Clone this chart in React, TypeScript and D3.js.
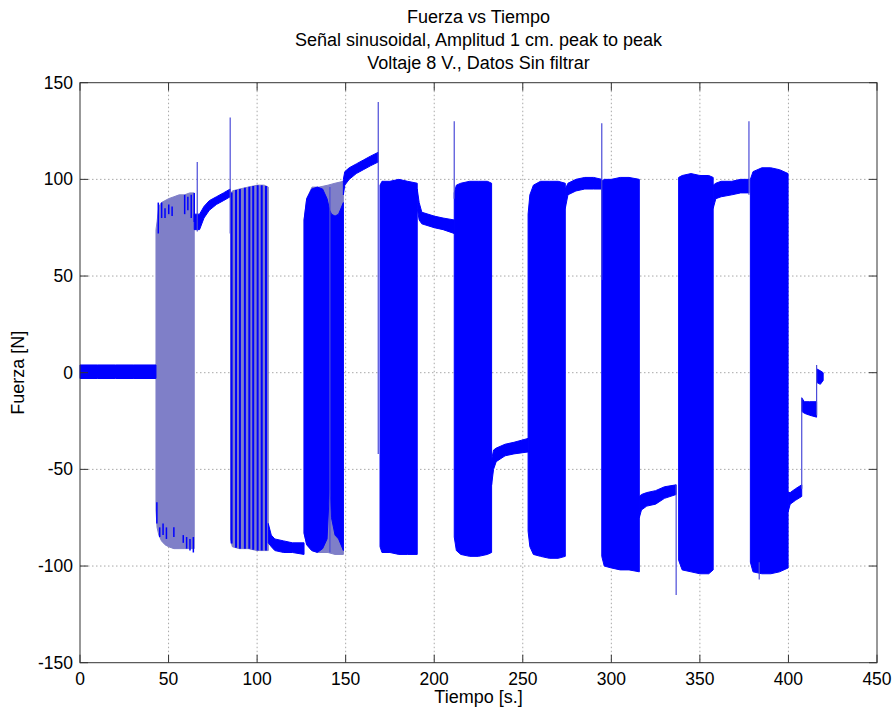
import React from 'react';
import * as d3 from 'd3';

// ---------- labels & ticks ----------
const TITLE_LINES = [
  'Fuerza vs Tiempo',
  'Señal sinusoidal, Amplitud 1 cm. peak to peak',
  'Voltaje 8 V., Datos Sin filtrar',
];
const X_LABEL = 'Tiempo [s.]';
const Y_LABEL = 'Fuerza [N]';
const X_TICKS = [0, 50, 100, 150, 200, 250, 300, 350, 400, 450];
const Y_TICKS = [-150, -100, -50, 0, 50, 100, 150];

// ---------- oscillation envelopes: [time, upper, lower] ----------
const band1 = [[42.9, 74, -71], [43.5, 78, -80], [44.5, 86, -84], [46, 88, -87], [48, 89, -89], [50, 90, -90], [53, 91, -91], [56, 92, -91], [59, 92, -91], [62, 93, -91], [64.5, 93, -91]];
const band2 = [[85, 92, -86], [86, 94, -90], [90, 95, -91], [95, 96, -91], [100, 97, -92], [104, 97, -92], [106.3, 96, -92]];
const band3 = [[126.5, 79, -83], [128, 90, -89], [131, 96, -92], [135, 96, -93], [140, 97, -93], [144, 98, -94], [148.7, 99, -94]];
const band3Dense = [[126.5, 79, -83], [128, 90, -89], [130.8, 95, -92], [134, 96, -93], [137, 95, -91], [139.5, 90, -86], [141, 84, -57], [142, 82, -75], [144, 81, -84], [146, 82, -86], [148.7, 88, -92]];
const band4 = [[169.4, 97, -90], [170.5, 99, -93], [175, 99, -93], [180, 100, -94], [185, 99, -94], [190.4, 98, -94]];
const band5 = [[211.3, 93, -85], [212.5, 97, -92], [215, 98, -94], [220, 99, -95], [225, 99, -95], [230, 99, -94], [232.4, 98, -93]];
const band6 = [[253, 82, -82], [254, 92, -90], [256, 97, -94], [260, 99, -95], [265, 99, -96], [270, 99, -96], [274, 98, -95]];
const band7 = [[294.6, 99, -95], [296, 100, -100], [300, 100, -101], [305, 101, -102], [310, 101, -102], [315.8, 100, -103]];
const band8 = [[338, 101, -97], [340, 102, -102], [345, 103, -103], [350, 102, -104], [355, 102, -104], [357.5, 101, -102]];
const band9 = [[378.5, 100, -98], [380, 104, -103], [385, 106, -104], [390, 106, -104], [395, 105, -103], [399.8, 103, -101]];

// individual cycles visible inside the lighter bands: [time, from, to]
const band1Marks = [[44.2, 88, 72], [46.1, 88, 80], [48, 85, 80], [50.1, 87, 82], [52, 86, 81], [59.1, 92, 82], [60.9, 91, 84], [62.8, 92, 80], [64.5, 93, 78],
  [43.4, -67, -78], [45, -80, -85], [46.9, -78, -84], [48.8, -80, -86], [53, -80, -85], [58.3, -84, -88], [60.2, -85, -91], [62.1, -86, -92], [64, -85, -93]];
const band2Stripes = [85.6, 88.1, 90.3, 93.1, 95.6, 97.8, 100.3, 102.6, 105];

// ---------- resting (non-oscillating) segments: [time, upper, lower] ----------
const rest0 = [[0, 4, -3], [10, 4, -3], [20, 4, -3], [30, 4, -3], [42.9, 4, -3]];
const restA = [[64.5, 82, 74], [67.5, 82, 74], [70, 86, 80], [73, 89, 84], [77, 91, 87], [81, 93, 89], [84.8, 95, 91]];
const restB = [[106.3, -78, -88], [108, -84, -90], [110, -86, -92], [115, -87, -93], [120, -88, -93], [126.5, -88, -94]];
const restC = [[148.7, 100, 92], [149.5, 104, 97], [152, 106, 100], [156, 108, 103], [160, 110, 105], [164, 112, 107], [168.4, 114, 109]];
const restD = [[190.4, 95, 85], [191.5, 88, 79], [193, 83, 77], [200, 81, 75], [205, 80, 74], [211.3, 79, 72]];
const restE = [[232.4, -45, -58], [233.5, -40, -50], [235, -39, -46], [240, -37, -43], [245, -36, -42], [253, -34, -41]];
const restF = [[274, 95, 85], [275.5, 98, 92], [280, 100, 94], [285, 101, 95], [290, 101, 95], [294.6, 100, 95]];
const restG = [[315.8, -64, -75], [317, -63, -71], [320, -62, -69], [325, -61, -68], [330, -59, -65], [336.6, -58, -63]];
const restH = [[357.5, 97, 85], [359, 98, 90], [362, 99, 91], [368, 99, 92], [373, 100, 93], [377.7, 100, 93]];
const restI = [[399.8, -62, -72], [401, -62, -68], [404, -60, -66], [407.5, -58, -64]];
const restJ = [[407.5, -13, -20], [409, -15, -21], [412, -15, -22], [415.9, -15, -23]];
const restK = [[415.9, 2, -5], [418, 1, -6], [419.6, 0, -4]];

// ---------- isolated spikes / jumps: [time, from, to] ----------
const spikes = [[66.2, 109, 73], [84.8, 132, 72], [141.1, 96, -93], [168.4, 140, -42], [211.3, 130, 90], [294.6, 129, 48], [336.6, -58, -115], [377.7, 130, 92], [383.5, -98, -107], [407.5, -60, -13], [415.9, -22, 4]];

const BLUE = '#0000ff';
const LAVENDER = '#7f7fc8';
const FONT = '"Liberation Sans", Arial, Helvetica, sans-serif';

const bands = [
  { env: band1, fill: LAVENDER },
  { env: band2, fill: LAVENDER },
  { env: band3, fill: LAVENDER },
  { env: band3Dense, fill: BLUE },
  { env: band4, fill: BLUE },
  { env: band5, fill: BLUE },
  { env: band6, fill: BLUE },
  { env: band7, fill: BLUE },
  { env: band8, fill: BLUE },
  { env: band9, fill: BLUE },
];
const rests = [rest0, restA, restB, restC, restD, restE, restF, restG, restH, restI, restJ, restK];

const W = 895, H = 715;
const M = { left: 80, right: 877, top: 82.7, bottom: 662.7 };

export default function App() {
  const x = d3.scaleLinear().domain([0, 450]).range([M.left, M.right]);
  const y = d3.scaleLinear().domain([-150, 150]).range([M.bottom, M.top]);
  const area = d3.area<number[]>().x(d => x(d[0])).y0(d => y(d[2])).y1(d => y(d[1]));
  const cx = (M.left + M.right) / 2;
  const tick = 8;
  const up2 = d3.scaleLinear().domain(band2.map(d => d[0])).range(band2.map(d => d[1]));
  const lo2 = d3.scaleLinear().domain(band2.map(d => d[0])).range(band2.map(d => d[2]));

  return (
    <svg width={W} height={H} style={{ position: 'absolute', left: 0, top: 0, background: '#fff' }} fontFamily={FONT}>
      <rect x={0} y={0} width={W} height={H} fill="#fff" />
      {/* grid */}
      <g stroke="#a8a8a8" strokeWidth={1} strokeDasharray="1.5,2.5">
        {X_TICKS.slice(1, -1).map(t => (
          <line key={'gx' + t} x1={x(t)} x2={x(t)} y1={M.top} y2={M.bottom} />
        ))}
        {Y_TICKS.slice(1, -1).map(t => (
          <line key={'gy' + t} x1={M.left} x2={M.right} y1={y(t)} y2={y(t)} />
        ))}
      </g>
      {/* data */}
      <g>
        {bands.map((b, i) => (
          <path key={'b' + i} d={area(b.env as number[][]) || ''} fill={b.fill} stroke={b.fill} strokeWidth={1} />
        ))}
        {band1Marks.map((m, i) => (
          <line key={'m' + i} x1={x(m[0])} x2={x(m[0])} y1={y(m[1])} y2={y(m[2])} stroke={BLUE} strokeWidth={1.5} />
        ))}
        {band2Stripes.map((t, i) => (
          <line key={'s' + i} x1={x(t)} x2={x(t)} y1={y(up2(t))} y2={y(lo2(t))} stroke={BLUE} strokeWidth={2} />
        ))}
        {rests.map((r, i) => (
          <path key={'r' + i} d={area(r as number[][]) || ''} fill={BLUE} stroke={BLUE} strokeWidth={1} />
        ))}
        {spikes.map((s, i) => (
          <line key={'k' + i} x1={x(s[0])} x2={x(s[0])} y1={y(s[1])} y2={y(s[2])} stroke="#4b4bd8" strokeWidth={1.2} />
        ))}
      </g>
      {/* axes box & ticks */}
      <g stroke="#333" strokeWidth={1} fill="none">
        <rect x={M.left} y={M.top} width={M.right - M.left} height={M.bottom - M.top} />
        {X_TICKS.map(t => (
          <g key={'tx' + t}>
            <line x1={x(t)} x2={x(t)} y1={M.bottom} y2={M.bottom - tick} />
            <line x1={x(t)} x2={x(t)} y1={M.top} y2={M.top + tick} />
          </g>
        ))}
        {Y_TICKS.map(t => (
          <g key={'ty' + t}>
            <line x1={M.left} x2={M.left + tick} y1={y(t)} y2={y(t)} />
            <line x1={M.right} x2={M.right - tick} y1={y(t)} y2={y(t)} />
          </g>
        ))}
      </g>
      {/* tick labels */}
      <g fontSize={17.5} fill="#000">
        {X_TICKS.map(t => (
          <text key={'lx' + t} x={x(t)} y={M.bottom + 22} textAnchor="middle">{t}</text>
        ))}
        {Y_TICKS.map(t => (
          <text key={'ly' + t} x={M.left - 7} y={y(t)} dy="0.35em" textAnchor="end">{t}</text>
        ))}
      </g>
      {/* labels */}
      <g fontSize={18} fill="#000">
        {TITLE_LINES.map((s, i) => (
          <text key={'t' + i} x={cx} y={23 + i * 23} textAnchor="middle">{s}</text>
        ))}
        <text x={cx} y={703} textAnchor="middle">{X_LABEL}</text>
        <text transform={`translate(24,${(M.top + M.bottom) / 2}) rotate(-90)`} textAnchor="middle">{Y_LABEL}</text>
      </g>
    </svg>
  );
}
